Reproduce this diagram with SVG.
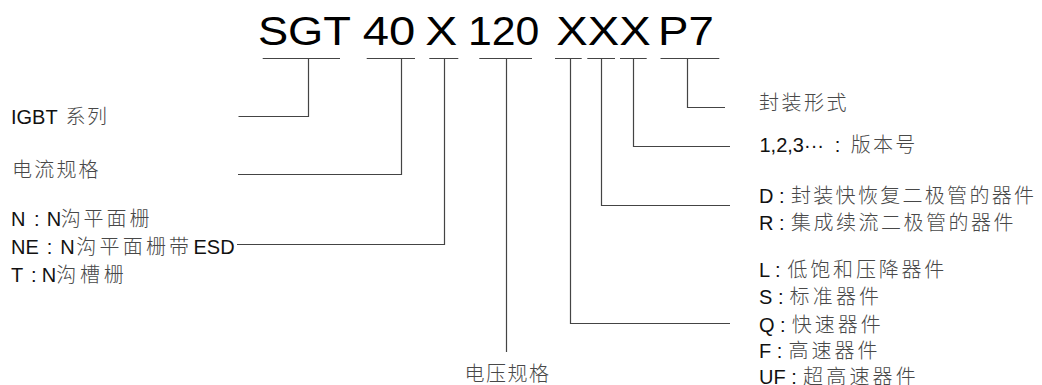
<svg xmlns="http://www.w3.org/2000/svg" width="1042" height="385" viewBox="0 0 1042 385">
<style>
.t{font-family:"Liberation Sans","Noto Sans CJK SC",sans-serif;font-size:20px;fill:#111}
.c{fill:#484848;font-family:"Noto Sans CJK SC",sans-serif;font-weight:300}
.big{font-family:"Liberation Sans",Arial,sans-serif;font-size:40px;fill:#000}
.ln{fill:none;stroke:#444;stroke-width:1.2}
</style>
<rect width="1042" height="385" fill="#fff"/>
<g id="title">
<text class="big" x="257.9" y="45" textLength="93.1" lengthAdjust="spacingAndGlyphs">SGT</text>
<text class="big" x="362.8" y="45" textLength="52.5" lengthAdjust="spacingAndGlyphs">40</text>
<text class="big" x="425.3" y="45" textLength="32" lengthAdjust="spacingAndGlyphs">X</text>
<text class="big" x="468" y="45" textLength="71.4" lengthAdjust="spacingAndGlyphs">120</text>
<text class="big" x="556.3" y="45" textLength="94.4" lengthAdjust="spacingAndGlyphs">XXX</text>
<text class="big" x="658.1" y="45" textLength="55.8" lengthAdjust="spacingAndGlyphs">P7</text>
</g>
<g id="connectors">
<path class="ln" d="M262.7 58.5H340M308.5 58.5V116.5H238.5"/>
<path class="ln" d="M366.7 58.5H415M401.5 58.5V174.5H238"/>
<path class="ln" d="M429.3 58.5H458.3M444.5 58.5V244.5H237"/>
<path class="ln" d="M479.3 58.5H532M506.5 58.5V352"/>
<path class="ln" d="M555 58.5H581.7M570.5 58.5V323.5H730"/>
<path class="ln" d="M587.3 58.5H615M601.5 58.5V205.5H730"/>
<path class="ln" d="M620 58.5H646.7M633.5 58.5V146.5H730"/>
<path class="ln" d="M660.5 58.5H719.3M687.5 58.5V107.5H725"/>
</g>
<g id="igbt"><text class="t" x="11" y="124.3">IGBT<tspan class="c" x="65.5 87.1">系列</tspan></text></g>
<g id="current"><text class="t c" x="12 34.2 56.4 78.6" y="176.5">电流规格</text></g>
<g id="gate">
<text class="t" x="11" y="225.7">N<tspan x="33.9">:</tspan><tspan x="46.8">N</tspan><tspan class="c" x="60.7 83.6 106.5 129.4">沟平面栅</tspan></text>
<text class="t" x="11" y="254">NE<tspan x="46.7">:</tspan><tspan x="60.2">N</tspan><tspan class="c" x="76.3 99.5 122.7 145.9 169.1">沟平面栅带</tspan><tspan x="193.5">ESD</tspan></text>
<text class="t" x="11" y="281.7">T<tspan x="30.9">:</tspan><tspan x="41.8">N</tspan><tspan class="c" x="56.3 80 103.7">沟槽栅</tspan></text>
</g>
<g id="voltage"><text class="t c" x="464.5 486 507.5 529" y="381">电压规格</text></g>
<g id="package"><text class="t c" x="759 781.5 804 826.5" y="109.5">封装形式</text></g>
<g id="version"><text class="t" x="759.5" y="151.7">1,2,3···<tspan x="834.8">:</tspan><tspan class="c" x="850.8 873 895.2">版本号</tspan></text></g>
<g id="diode">
<text class="t" x="759" y="202.7">D :<tspan class="c" x="791 813.3 835.6 857.9 880.2 902.5 924.8 947.1 969.4 991.7 1014">封装快恢复二极管的器件</tspan></text>
<text class="t" x="759" y="230">R :<tspan class="c" x="791 813.5 836 858.5 881 903.5 926 948.5 971 993.5">集成续流二极管的器件</tspan></text>
</g>
<g id="speed">
<text class="t" x="759" y="276.7">L :<tspan class="c" x="787.5 810.3 833.1 855.9 878.7 901.5 924.3">低饱和压降器件</tspan></text>
<text class="t" x="759" y="304.3">S :<tspan class="c" x="789.5 812.7 835.9 859.1">标准器件</tspan></text>
<text class="t" x="759" y="331.5">Q :<tspan class="c" x="791.8 814.8 837.8 860.8">快速器件</tspan></text>
<text class="t" x="759" y="357.7">F :<tspan class="c" x="788.5 811.5 834.5 857.5">高速器件</tspan></text>
<text class="t" x="759" y="384.3">UF :<tspan class="c" x="803 826.2 849.4 872.6 895.8">超高速器件</tspan></text>
</g>
</svg>
